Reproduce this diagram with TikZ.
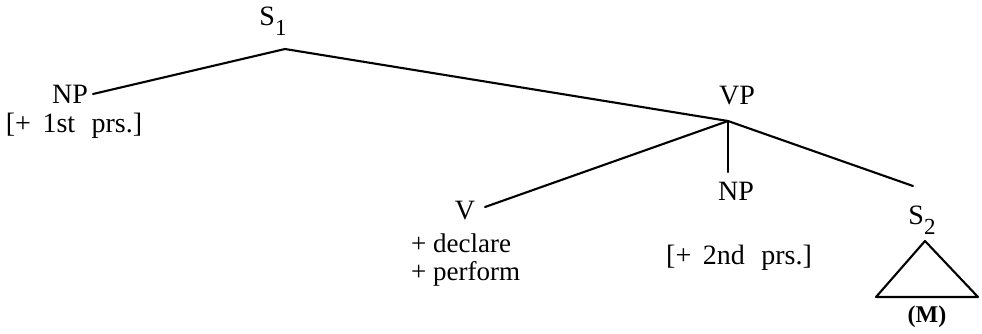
\documentclass[tikz,border=0pt]{standalone}
\usepackage{fontspec}
\setmainfont{Liberation Serif}
\newcommand{\sub}[1]{\raisebox{-0.35em}{\fontsize{23}{23}\selectfont #1}}
\begin{document}
\begin{tikzpicture}[x=1pt,y=-1pt,
  lab/.style={inner sep=0pt,font=\fontsize{28}{32}\selectfont},
  edge/.style={line width=2.1pt,line cap=round}]
\useasboundingbox (0,0) rectangle (982,333);
% labels
\node[lab] (s1) at (273,21) {S\sub{1}};
\node[lab] (np1) at (70,94) {NP};
\node[lab] (np1f) at (74,126) {[+\, 1st\, \,prs.]};
\node[lab] (vp) at (737,96) {VP};
\node[lab] (v) at (465,211) {V};
\node[lab,align=left,anchor=north west,font=\fontsize{27}{30}\selectfont] (vf) at (411,234) {+ declare\\[-2pt]+ perform};
\node[lab] (np2) at (736,191) {NP};
\node[lab] (np2f) at (739,258) {[+\, 2nd\, \,prs.]};
\node[lab] (s2) at (922,220) {S\sub{2}};
\node[lab,font=\fontsize{24}{28}\selectfont\bfseries] (m) at (927,317) {(M)};
% junction points
\coordinate (s1j) at (285,49);
\coordinate (np1j) at (93,94);
\coordinate (vpj) at (728,121);
\coordinate (vj) at (485,207);
\coordinate (np2j) at (728,172);
\coordinate (s2j) at (913,186);
\coordinate (ta) at (925,241);
\coordinate (tl) at (876,297);
\coordinate (tr) at (978,297);
% edges
\draw[edge] (s1j) -- (np1j);
\draw[edge] (s1j) -- (vpj);
\draw[edge] (vpj) -- (vj);
\draw[edge] (vpj) -- (np2j);
\draw[edge] (vpj) -- (s2j);
\draw[edge,line join=round] (ta) -- (tl) -- (tr) -- cycle;
\end{tikzpicture}
\end{document}
